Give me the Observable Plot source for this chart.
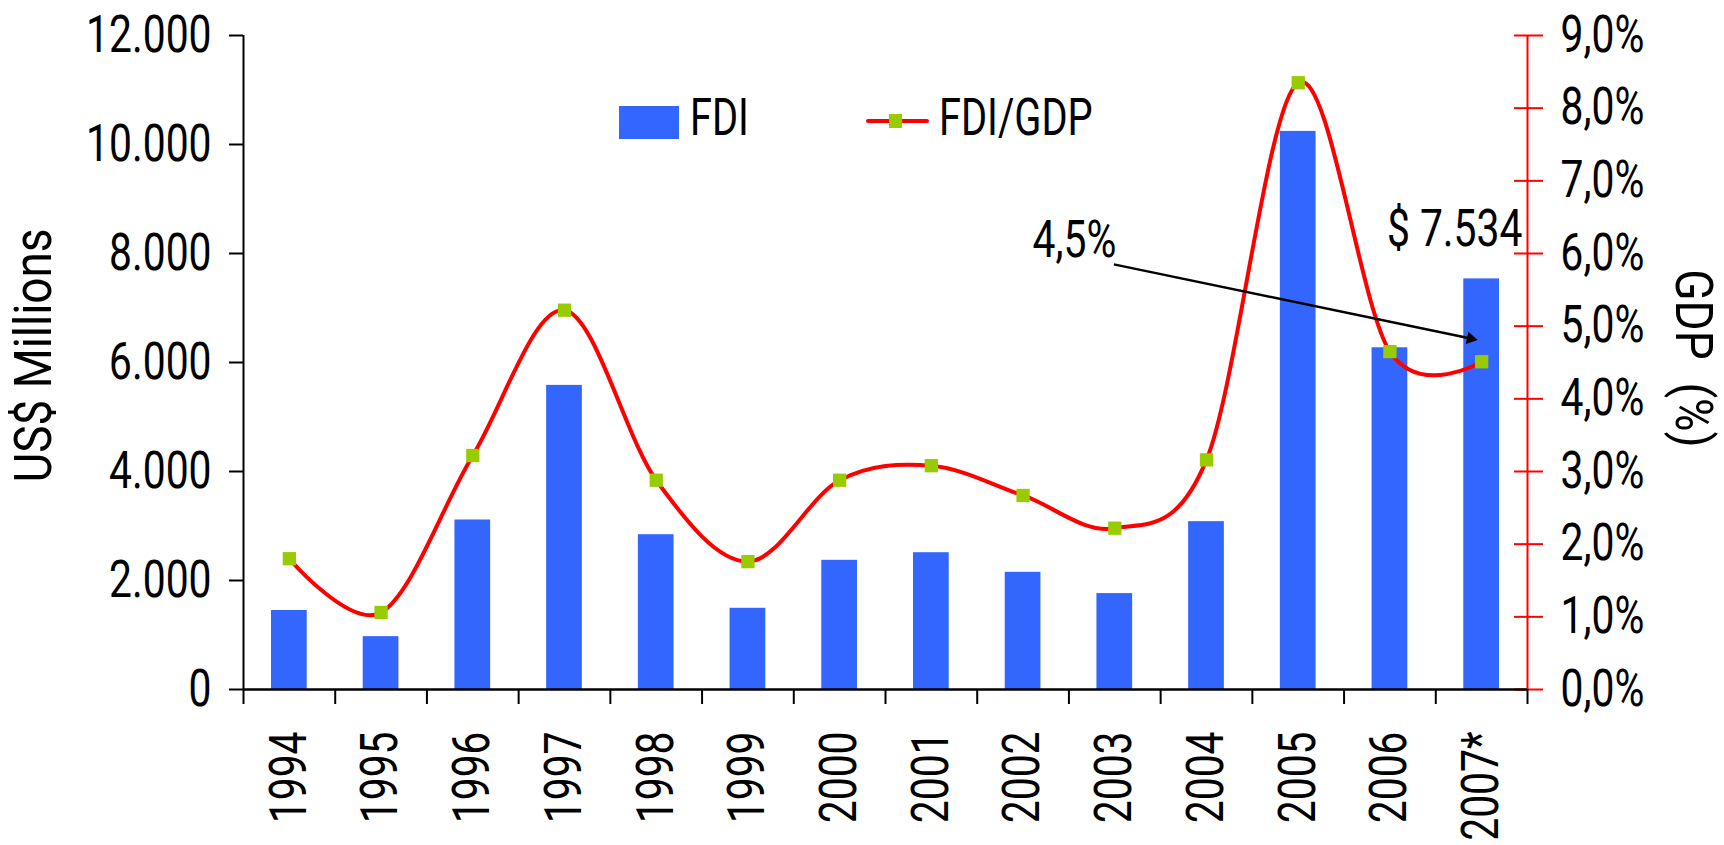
<!DOCTYPE html>
<html><head><meta charset="utf-8">
<script src="https://cdn.jsdelivr.net/npm/d3@7"></script>
<script src="https://cdn.jsdelivr.net/npm/@observablehq/plot@0.6"></script>
<style>
html,body{margin:0;padding:0;background:#fff;overflow:hidden;}
#wrap{position:relative;width:1724px;height:845px;font-family:Roboto,'DejaVu Sans',sans-serif;}
.lg{position:absolute;}
.lt{position:absolute;font-size:51px;line-height:51px;color:#000;white-space:pre;transform:scaleX(0.78);transform-origin:0 0;}
</style></head><body><div id="wrap"></div>
<script>
// ---- data ----
const years = ["1994","1995","1996","1997","1998","1999","2000","2001","2002","2003","2004","2005","2006","2007*"];
const fdi = [1450, 970, 3110, 5580, 2840, 1490, 2370, 2510, 2150, 1760, 3080, 10240, 6270, 7534];
const fdiGdp = [1.80, 1.06, 3.22, 5.22, 2.88, 1.76, 2.88, 3.08, 2.67, 2.22, 3.16, 8.35, 4.65, 4.51];
const leftTicks = [0, 2000, 4000, 6000, 8000, 10000, 12000];
const rightTicks = [0, 1, 2, 3, 4, 5, 6, 7, 8, 9];
const seriesNames = ["FDI", "FDI/GDP"];
const axisTitles = ["US$ Millions", "GDP\u00a0 (%)"];
// annotation: label position and arrow (data units: x = category index, y = US$ millions)
const noteLabel = {x: 9.06, y: 8240};
const noteArrow = {x1: 9.49, y1: 7800, x2: 13.38, y2: 6440};

const yMax = leftTicks[leftTicks.length - 1];
const pMax = rightTicks[rightTicks.length - 1];
const k = yMax / pMax;
const loc = d3.formatLocale({decimal: ",", thousands: ".", grouping: [3], currency: ["$ ", ""]});
const fmtN = loc.format(",.0f");
const fmtP = loc.format(".1f");

const data = years.map((y, i) => ({i, year: y, fdi: fdi[i], pct: fdiGdp[i]}));
const last = data[data.length - 1];

const BLUE = "#3366FF", RED = "#FF0000", GREEN = "#99CC00";
const SQUEEZE = 0.8, TITLE_SQUEEZE = 0.9;

const chart = Plot.plot({
  width: 1724, height: 845,
  marginLeft: 243, marginRight: 197, marginTop: 35, marginBottom: 156,
  style: {fontFamily: "Roboto,'DejaVu Sans',sans-serif", fontSize: "51px", background: "white", color: "black"},
  x: {domain: [0, years.length], axis: null},
  y: {domain: [0, yMax], axis: null, label: null},
  marks: [
    Plot.rectY(data, {x: "i", interval: 1, y: "fdi", fill: BLUE, insetLeft: 28, insetRight: 28}),
    Plot.line(data, {x: d => d.i + 0.5, y: d => d.pct * k, curve: "cardinal", stroke: RED, strokeWidth: 4}),
    Plot.dot(data, {x: d => d.i + 0.5, y: d => d.pct * k, symbol: "square", r: 7.5, fill: GREEN}),
    // axes
    Plot.axisY({anchor: "left", ticks: leftTicks, tickFormat: fmtN, tickSize: 14, tickPadding: 18, strokeWidth: 2}),
    Plot.ruleX([0], {stroke: "black", strokeWidth: 2}),
    Plot.axisY({anchor: "right", ticks: rightTicks.map(v => v * k), tickFormat: v => fmtP(v / k) + "%", tickSize: 0, tickPadding: 33}),
    Plot.axisY({anchor: "right", ticks: rightTicks.map(v => v * k), tickSize: 29, insetRight: 14, stroke: RED, strokeWidth: 2, fill: "none"}),
    Plot.ruleX([years.length], {stroke: RED, strokeWidth: 2}),
    Plot.axisX({ticks: d3.range(years.length + 1), tickSize: 15, strokeWidth: 2, fill: "none"}),
    Plot.axisX({ticks: d3.range(years.length).map(i => i + 0.5), tickFormat: v => years[Math.floor(v)], tickSize: 0, tickPadding: 42, tickRotate: -90}),
    Plot.ruleY([0], {stroke: "black", strokeWidth: 2.5}),
    // axis titles
    Plot.text([axisTitles[0]], {frameAnchor: "left", textAnchor: "middle", rotate: -90, dx: -209, dy: -7}),
    Plot.text([axisTitles[1]], {frameAnchor: "right", textAnchor: "middle", rotate: 90, dx: 165, dy: -4}),
    // annotations
    Plot.text([last], {x: d => d.i + 0.5, y: "fdi", text: d => "$ " + fmtN(d.fdi), dx: -27, dy: -49}),
    Plot.text([noteLabel], {x: "x", y: "y", text: () => fmtP(last.pct) + "%"}),
    Plot.link([noteArrow], {x1: "x1", y1: "y1", x2: "x2", y2: "y2", stroke: "black", strokeWidth: 2.5}),
    Plot.dot([noteArrow], {x: "x2", y: "y2", symbol: "triangle2", r: 6, fill: "black", rotate: 101.7})
  ]
});
const wrap = document.getElementById("wrap");
wrap.appendChild(chart);
// condense all chart text along its reading direction (anchor point stays fixed)
chart.querySelectorAll("text").forEach(t => {
  const tr = t.getAttribute("transform") || "";
  const s = axisTitles.includes(t.textContent) ? TITLE_SQUEEZE : SQUEEZE;
  t.setAttribute("transform", `${tr} scale(${s},1)`.trim());
});

// legend overlay
function add(cls, css, text) {
  const el = document.createElement("div");
  el.className = cls;
  Object.assign(el.style, css);
  if (text) el.textContent = text;
  wrap.appendChild(el);
}
add("lg", {left: "619px", top: "106px", width: "60px", height: "33px", background: BLUE});
add("lt", {left: "690px", top: "92px"}, seriesNames[0]);
add("lg", {left: "866px", top: "119px", width: "63px", height: "4px", background: RED, borderRadius: "2px"});
add("lg", {left: "889px", top: "114px", width: "13px", height: "14px", background: GREEN});
add("lt", {left: "939px", top: "92px"}, seriesNames[1]);
</script></body></html>
